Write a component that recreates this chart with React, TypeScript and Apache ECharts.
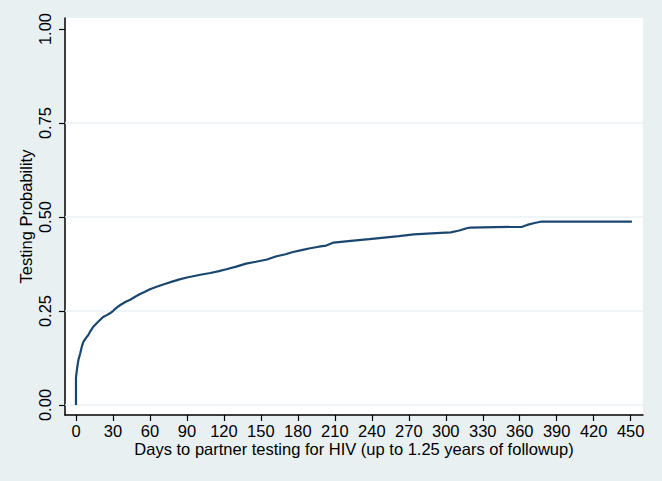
import React, { useEffect, useRef } from "react";
import * as echarts from "echarts";

const days = [
  0, 0, 1, 2, 3.4, 5, 6, 8, 10, 12, 14, 17, 19.5, 22, 25, 27.6, 30, 33, 36, 40, 44, 48, 52, 56, 60,
  66, 72, 78, 84, 90, 96, 102, 109, 116, 122, 130, 138, 146, 155, 162, 170, 176, 183, 190, 197,
  203, 209, 215, 225, 238, 250, 262, 274, 285, 296, 304, 311, 317, 320, 340, 362, 366, 372, 377, 451,
];
const probability = [
  0, 0.073, 0.1, 0.12, 0.137, 0.158, 0.168, 0.178, 0.186, 0.198, 0.208, 0.218, 0.226, 0.234, 0.239,
  0.244, 0.25, 0.259, 0.266, 0.274, 0.28, 0.288, 0.295, 0.301, 0.308, 0.315, 0.322, 0.328, 0.334,
  0.339, 0.343, 0.347, 0.351, 0.356, 0.361, 0.368, 0.376, 0.381, 0.387, 0.395, 0.401, 0.407, 0.412,
  0.417, 0.421, 0.424, 0.432, 0.434, 0.437, 0.441, 0.445, 0.449, 0.454, 0.456, 0.458, 0.459, 0.464,
  0.47, 0.472, 0.473, 0.474, 0.479, 0.484, 0.4875, 0.4875,
];
const xTicks = [0, 30, 60, 90, 120, 150, 180, 210, 240, 270, 300, 330, 360, 390, 420, 450];
const yTicks = [0, 0.25, 0.5, 0.75, 1];
const yGrid = [0, 0.25, 0.5, 0.75];

const BG = "#e9f0f2";
const LINE = "#1a476f";
const FONT = "Liberation Sans";
const FS = 16.5;

export default function App() {
  const ref = useRef<HTMLDivElement>(null);
  useEffect(() => {
    if (!ref.current) return;
    const chart = echarts.init(ref.current, undefined, { renderer: "svg" });
    chart.setOption({
      animation: false,
      backgroundColor: BG,
      grid: {
        left: 65,
        right: 19,
        top: 18,
        bottom: 66,
        show: true,
        backgroundColor: "#ffffff",
        borderWidth: 0,
      },
      xAxis: {
        type: "value",
        min: -8.9,
        max: 460,
        name: "Days to partner testing for HIV (up to 1.25 years of followup)",
        nameLocation: "middle",
        nameGap: 25,
        nameMoveOverlap: false,
        nameTextStyle: { fontFamily: FONT, fontSize: FS, color: "#000" },
        axisLine: { show: true, onZero: false, lineStyle: { color: "#000", width: 1.5 } },
        axisTick: { show: true, customValues: xTicks, length: 6, lineStyle: { color: "#000", width: 1.2 } },
        axisLabel: {
          customValues: xTicks,
          fontFamily: FONT,
          fontSize: FS,
          color: "#000",
          margin: 7,
        },
        splitLine: { show: false },
      },
      yAxis: {
        type: "value",
        min: -0.0266,
        max: 1.0293,
        name: "Testing Probability",
        nameLocation: "middle",
        nameGap: 31,
        nameMoveOverlap: false,
        nameRotate: 90,
        nameTextStyle: { fontFamily: FONT, fontSize: FS, color: "#000" },
        axisLine: { show: true, onZero: false, lineStyle: { color: "#000", width: 1.5 } },
        axisTick: { show: true, customValues: yTicks, length: 6, lineStyle: { color: "#000", width: 1.2 } },
        axisLabel: {
          customValues: yTicks,
          formatter: (v: number) => v.toFixed(2),
          rotate: 90,
          fontFamily: FONT,
          fontSize: FS,
          color: "#000",
          margin: 12,
        },
        splitLine: { show: false },
      },
      series: [
        {
          type: "line",
          data: days.map((d, i) => [d, probability[i]]),
          showSymbol: false,
          lineStyle: { color: LINE, width: 2.2 },
          z: 3,
          markLine: {
            silent: true,
            symbol: "none",
            label: { show: false },
            lineStyle: { color: "#eaf2f3", width: 1.5, type: "solid" },
            data: yGrid.map((v) => ({ yAxis: v })),
            z: 1,
          },
        },
      ],
    });
    return () => chart.dispose();
  }, []);
  return (
    <div
      ref={ref}
      style={{ position: "absolute", left: 0, top: 0, width: 662, height: 481 }}
    />
  );
}
